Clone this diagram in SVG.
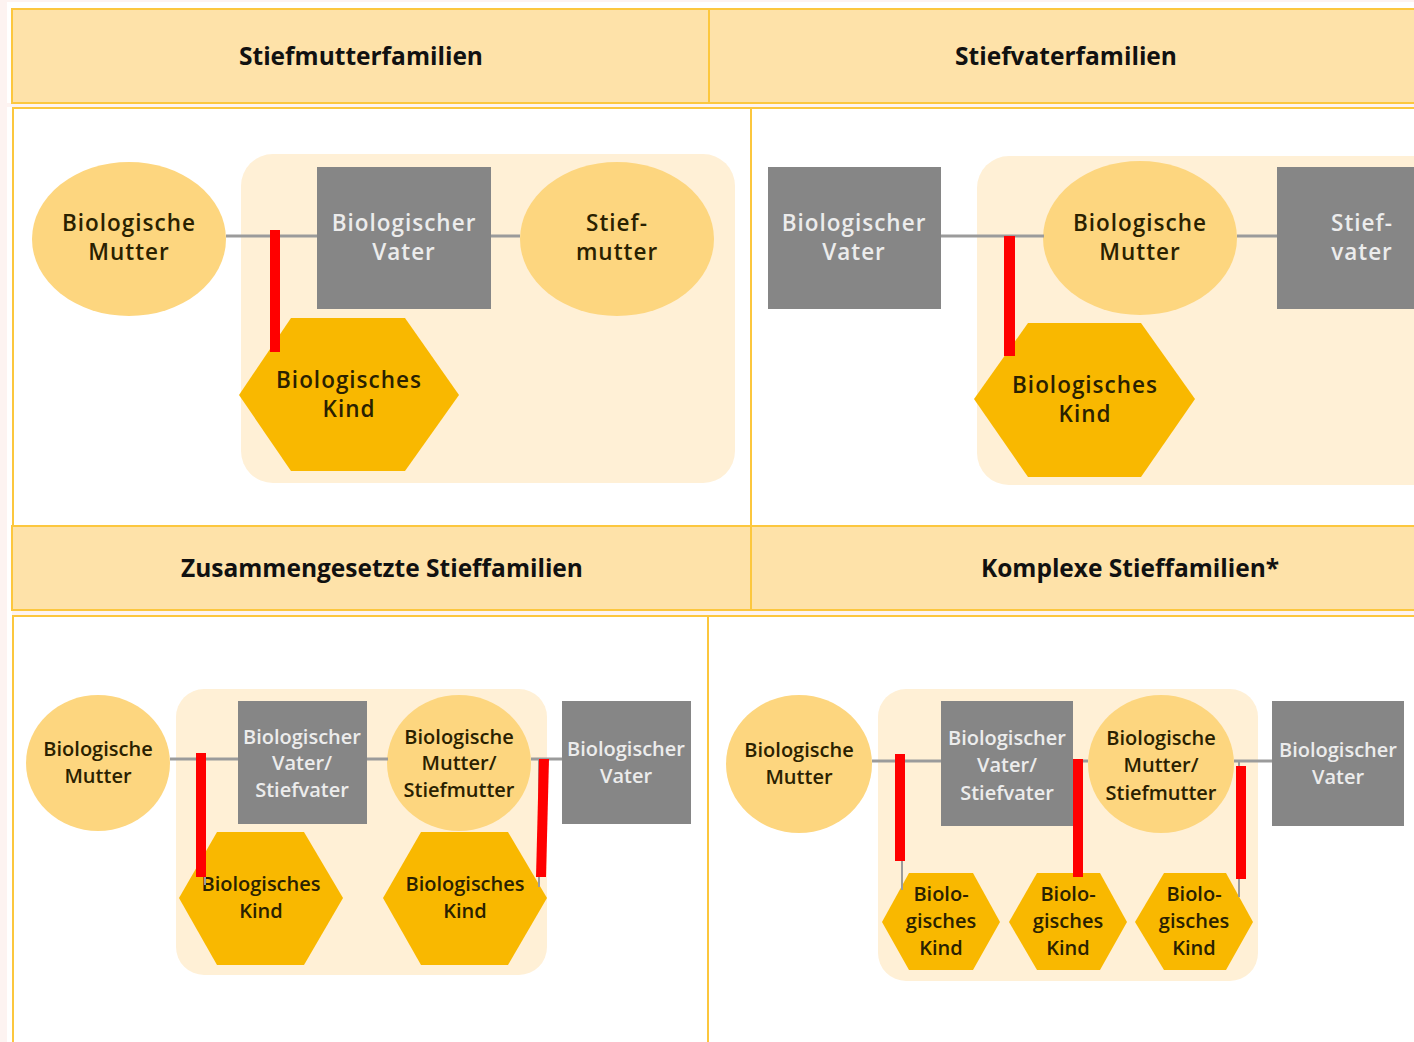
<svg xmlns="http://www.w3.org/2000/svg" width="1414" height="1042" viewBox="0 0 1414 1042">
<style>
.hdr{font-family:"Open Sans","DejaVu Sans",sans-serif;font-weight:700;font-size:24.5px;fill:#111;text-anchor:middle}
.t{font-family:"Open Sans","DejaVu Sans",sans-serif;font-weight:600;text-anchor:middle;fill:#2a2100}
.big{font-size:22.5px;letter-spacing:1px}
.sm{font-size:20px}
.w{fill:#ececec}
.ell{fill:#fdd67f}
.box{fill:#868686}
.hex{fill:#f9b800}
.bd{fill:#fff0d6}
.ln{stroke:#9b9b9b;stroke-width:3;fill:none}
.thin{stroke:#9b9b9b;stroke-width:2;fill:none}
.red{fill:#ff0000}
.frame{stroke:#fcc73e;stroke-width:2;fill:none}
.hfill{fill:#fee2a9;stroke:#fcc73e;stroke-width:2}
</style>
<rect x="0" y="0" width="1414" height="1042" fill="#fdf3f1"/>
<rect x="7" y="2" width="1407" height="101" fill="#ffffff"/>
<rect x="7" y="107" width="1407" height="935" fill="#ffffff"/>

<g id="header-top">
<rect class="hfill" x="12" y="9" width="1412" height="94"/>
<line class="frame" x1="709" y1="9" x2="709" y2="103"/>
<text class="hdr" x="361" y="65">Stiefmutterfamilien</text>
<text class="hdr" x="1066" y="65">Stiefvaterfamilien</text>
</g>

<g id="frames">
<line class="frame" x1="12" y1="108" x2="1414" y2="108"/>
<line class="frame" x1="13" y1="108" x2="13" y2="1042"/>
<line class="frame" x1="751" y1="108" x2="751" y2="526"/>
<line class="frame" x1="708" y1="616" x2="708" y2="1042"/>
</g>

<g id="header-middle">
<rect class="hfill" x="12" y="526" width="1412" height="84"/>
<rect x="12" y="611" width="1402" height="4" fill="#fdf3f1"/>
<line class="frame" x1="12" y1="616" x2="1414" y2="616"/>
<line class="frame" x1="751" y1="526" x2="751" y2="610"/>
<text class="hdr" x="382" y="577">Zusammengesetzte Stieffamilien</text>
<text class="hdr" x="1130" y="577">Komplexe Stieffamilien*</text>
</g>

<g id="backdrops">
<rect class="bd" x="241" y="154" width="494" height="329" rx="32"/>
<rect class="bd" x="977" y="156" width="500" height="329" rx="32"/>
<rect class="bd" x="176" y="689" width="371" height="286" rx="28"/>
<rect class="bd" x="878" y="689" width="380" height="292" rx="28"/>
</g>

<!-- Stiefmutterfamilien -->
<g id="sm-mutter">
<ellipse class="ell" cx="129" cy="239" rx="97" ry="77"/>
<text class="t big" x="129" y="231">Biologische<tspan x="129" dy="29">Mutter</tspan></text>
</g>
<g id="sm-vater">
<rect class="box" x="317" y="167" width="174" height="142"/>
<text class="t big w" x="404" y="231">Biologischer<tspan x="404" dy="29">Vater</tspan></text>
</g>
<g id="sm-stiefmutter">
<ellipse class="ell" cx="617" cy="239" rx="97" ry="77"/>
<text class="t big" x="617" y="231">Stief-<tspan x="617" dy="29">mutter</tspan></text>
</g>
<g id="sm-kind">
<polygon class="hex" points="239,395 291,318 405,318 459,395 405,471 291,471"/>
<text class="t big" x="349" y="388">Biologisches<tspan x="349" dy="29">Kind</tspan></text>
</g>

<!-- Stiefvaterfamilien -->
<g id="sv-vater">
<rect class="box" x="768" y="167" width="173" height="142"/>
<text class="t big w" x="854" y="231">Biologischer<tspan x="854" dy="29">Vater</tspan></text>
</g>
<g id="sv-mutter">
<ellipse class="ell" cx="1140" cy="238" rx="97" ry="77"/>
<text class="t big" x="1140" y="231">Biologische<tspan x="1140" dy="29">Mutter</tspan></text>
</g>
<g id="sv-stiefvater">
<rect class="box" x="1277" y="167" width="160" height="142"/>
<text class="t big w" x="1362" y="231">Stief-<tspan x="1362" dy="29">vater</tspan></text>
</g>
<g id="sv-kind">
<polygon class="hex" points="974,399 1028,323 1141,323 1195,399 1141,477 1028,477"/>
<text class="t big" x="1085" y="393">Biologisches<tspan x="1085" dy="29">Kind</tspan></text>
</g>

<!-- Zusammengesetzte Stieffamilien -->
<g id="zs-mutter">
<ellipse class="ell" cx="98" cy="763" rx="72" ry="68"/>
<text class="t sm" x="98" y="756">Biologische<tspan x="98" dy="27">Mutter</tspan></text>
</g>
<g id="zs-vater-stiefvater">
<rect class="box" x="238" y="701" width="129" height="123"/>
<text class="t sm w" x="302" y="744">Biologischer<tspan x="302" dy="26">Vater/</tspan><tspan x="302" dy="27">Stiefvater</tspan></text>
</g>
<g id="zs-mutter-stiefmutter">
<ellipse class="ell" cx="459" cy="763" rx="72" ry="68"/>
<text class="t sm" x="459" y="744">Biologische<tspan x="459" dy="26">Mutter/</tspan><tspan x="459" dy="27">Stiefmutter</tspan></text>
</g>
<g id="zs-vater">
<rect class="box" x="562" y="701" width="129" height="123"/>
<text class="t sm w" x="626" y="756">Biologischer<tspan x="626" dy="27">Vater</tspan></text>
</g>
<g id="zs-kind1">
<polygon class="hex" points="179,898 217,832 304,832 343,898 304,965 217,965"/>
<text class="t sm" x="261" y="891">Biologisches<tspan x="261" dy="27">Kind</tspan></text>
</g>
<g id="zs-kind2">
<polygon class="hex" points="383,898 421,832 508,832 547,898 508,965 421,965"/>
<text class="t sm" x="465" y="891">Biologisches<tspan x="465" dy="27">Kind</tspan></text>
</g>

<!-- Komplexe Stieffamilien -->
<g id="ks-mutter">
<ellipse class="ell" cx="799" cy="764" rx="73" ry="69"/>
<text class="t sm" x="799" y="757">Biologische<tspan x="799" dy="27">Mutter</tspan></text>
</g>
<g id="ks-vater-stiefvater">
<rect class="box" x="941" y="701" width="132" height="125"/>
<text class="t sm w" x="1007" y="745">Biologischer<tspan x="1007" dy="27">Vater/</tspan><tspan x="1007" dy="28">Stiefvater</tspan></text>
</g>
<g id="ks-mutter-stiefmutter">
<ellipse class="ell" cx="1161" cy="764" rx="73" ry="69"/>
<text class="t sm" x="1161" y="745">Biologische<tspan x="1161" dy="27">Mutter/</tspan><tspan x="1161" dy="28">Stiefmutter</tspan></text>
</g>
<g id="ks-vater">
<rect class="box" x="1272" y="701" width="132" height="125"/>
<text class="t sm w" x="1338" y="757">Biologischer<tspan x="1338" dy="27">Vater</tspan></text>
</g>
<g id="ks-kind1">
<polygon class="hex" points="882,922 909,873 973,873 1000,922 973,970 909,970"/>
<text class="t sm" x="941" y="901">Biolo-<tspan x="941" dy="27">gisches</tspan><tspan x="941" dy="27">Kind</tspan></text>
</g>
<g id="ks-kind2">
<polygon class="hex" points="1009,922 1037,873 1100,873 1127,922 1100,970 1037,970"/>
<text class="t sm" x="1068" y="901">Biolo-<tspan x="1068" dy="27">gisches</tspan><tspan x="1068" dy="27">Kind</tspan></text>
</g>
<g id="ks-kind3">
<polygon class="hex" points="1135,922 1164,873 1226,873 1253,922 1226,970 1164,970"/>
<text class="t sm" x="1194" y="901">Biolo-<tspan x="1194" dy="27">gisches</tspan><tspan x="1194" dy="27">Kind</tspan></text>
</g>

<g id="connectors">
<line class="ln" x1="226" y1="236" x2="317" y2="236"/>
<line class="ln" x1="491" y1="236" x2="520" y2="236"/>
<rect class="red" x="270" y="230" width="10" height="122"/>

<line class="ln" x1="941" y1="236" x2="1044" y2="236"/>
<line class="ln" x1="1237" y1="236" x2="1277" y2="236"/>
<rect class="red" x="1004" y="236" width="11" height="120"/>

<line class="ln" x1="170" y1="759" x2="238" y2="759"/>
<line class="ln" x1="367" y1="759" x2="388" y2="759"/>
<line class="ln" x1="531" y1="759" x2="562" y2="759"/>
<line class="thin" x1="205" y1="760" x2="205" y2="885"/>
<rect class="red" x="196" y="753" width="10" height="124"/>
<line class="thin" x1="539" y1="760" x2="539" y2="887"/>
<polygon class="red" points="539,759 549,759 546,877 536,877"/>

<line class="ln" x1="872" y1="761" x2="941" y2="761"/>
<line class="ln" x1="1073" y1="761" x2="1088" y2="761"/>
<line class="ln" x1="1234" y1="761" x2="1272" y2="761"/>
<line class="thin" x1="902" y1="761" x2="902" y2="890"/>
<rect class="red" x="895" y="754" width="10" height="107"/>
<rect class="red" x="1073" y="759" width="10" height="118"/>
<line class="thin" x1="1239" y1="761" x2="1239" y2="897"/>
<rect class="red" x="1236" y="766" width="10" height="113"/>
</g>
</svg>
